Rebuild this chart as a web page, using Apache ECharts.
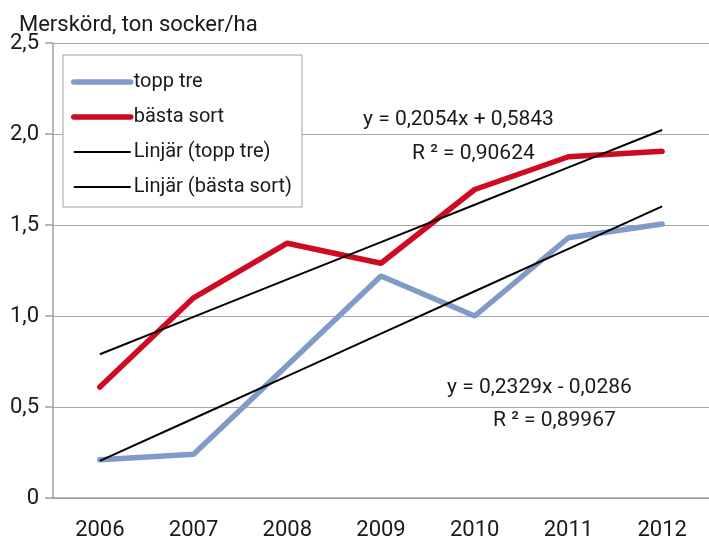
<!DOCTYPE html>
<html>
<head>
<meta charset="utf-8">
<script src="https://cdn.jsdelivr.net/npm/echarts@6/dist/echarts.min.js"></script>
<style>
html, body { margin: 0; padding: 0; background: #fff; }
#main { width: 709px; height: 541px; }
</style>
</head>
<body>
<div id="main"></div>
<script>
// data
var years = ['2006', '2007', '2008', '2009', '2010', '2011', '2012'];
var toppTre = [0.21, 0.24, 0.73, 1.22, 1.00, 1.43, 1.505];
var bastaSort = [0.61, 1.10, 1.40, 1.29, 1.695, 1.875, 1.905];
// trendlines (values of the fitted lines at each year)
var linjarToppTre = [0.204, 0.437, 0.670, 0.903, 1.136, 1.369, 1.602];
var linjarBastaSort = [0.790, 0.995, 1.201, 1.406, 1.611, 1.817, 2.022];

var font = '"Roboto", sans-serif';
var myChart = echarts.init(document.getElementById('main'));

var option = {
    backgroundColor: '#fff',
    animation: false,
    title: {
        text: 'Merskörd, ton socker/ha',
        left: 14, top: 9,
        textStyle: { fontFamily: font, fontSize: 22, fontWeight: 'normal', color: '#1a1a1a' }
    },
    legend: {
        orient: 'vertical',
        left: 63, top: 55,
        padding: [17, 10, 10, 8],
        itemGap: 15,
        itemWidth: 57,
        itemHeight: 2,
        backgroundColor: '#fff',
        borderColor: '#a0a0a0',
        borderWidth: 1,
        borderRadius: 0,
        textStyle: { fontFamily: font, fontSize: 20, color: '#1a1a1a', padding: [0, 0, 0, -2] },
        data: [
            { name: 'topp tre', lineStyle: { width: 5.5, cap: 'round' } },
            { name: 'bästa sort', lineStyle: { width: 5.5, cap: 'round' } },
            { name: 'Linjär (topp tre)', lineStyle: { width: 2 } },
            { name: 'Linjär (bästa sort)', lineStyle: { width: 2 } }
        ]
    },
    grid: { left: 53, right: -9, top: 43, bottom: 43 },
    xAxis: {
        type: 'category',
        data: years,
        boundaryGap: true,
        axisLine: { lineStyle: { color: '#a0a0a0', width: 1.5 } },
        axisTick: { length: 8, lineStyle: { color: '#a0a0a0', width: 1.5 } },
        axisLabel: { fontFamily: font, fontSize: 22, color: '#1a1a1a', margin: 21 }
    },
    yAxis: {
        type: 'value',
        min: 0, max: 2.5, interval: 0.5,
        axisLine: { show: true, lineStyle: { color: '#a0a0a0', width: 1.5 } },
        axisTick: { show: true, length: 8, lineStyle: { color: '#a0a0a0', width: 1.5 } },
        splitLine: { lineStyle: { color: '#a6a6a6', width: 1.2 } },
        axisLabel: {
            fontFamily: font, fontSize: 22, color: '#1a1a1a', margin: 14,
            formatter: function (v) {
                if (v === 0) return '0';
                return v.toFixed(1).replace('.', ',');
            }
        }
    },
    graphic: [
        { type: 'text', left: 363, top: 109, style: { text: 'y = 0,2054x + 0,5843', font: '21px ' + font, fill: '#1a1a1a' } },
        { type: 'text', left: 412, top: 143, style: { text: 'R ² = 0,90624', font: '21px ' + font, fill: '#1a1a1a' } },
        { type: 'text', left: 447, top: 377, style: { text: 'y = 0,2329x - 0,0286', font: '21px ' + font, fill: '#1a1a1a' } },
        { type: 'text', left: 493, top: 410, style: { text: 'R ² = 0,89967', font: '21px ' + font, fill: '#1a1a1a' } }
    ],
    series: [{
        name: 'topp tre',
        type: 'line',
        data: toppTre,
        symbol: 'none',
        z: 3,
        itemStyle: { color: '#819bc8' },
        lineStyle: { color: '#819bc8', width: 5.5, cap: 'round' }
    }, {
        name: 'bästa sort',
        type: 'line',
        data: bastaSort,
        symbol: 'none',
        z: 3,
        itemStyle: { color: '#cf0a23' },
        lineStyle: { color: '#cf0a23', width: 5.5, cap: 'round' }
    }, {
        name: 'Linjär (topp tre)',
        type: 'line',
        data: linjarToppTre,
        symbol: 'none',
        z: 4,
        itemStyle: { color: '#000' },
        lineStyle: { color: '#000', width: 2 }
    }, {
        name: 'Linjär (bästa sort)',
        type: 'line',
        data: linjarBastaSort,
        symbol: 'none',
        z: 4,
        itemStyle: { color: '#000' },
        lineStyle: { color: '#000', width: 2 }
    }]
};
myChart.setOption(option);
</script>
</body>
</html>
